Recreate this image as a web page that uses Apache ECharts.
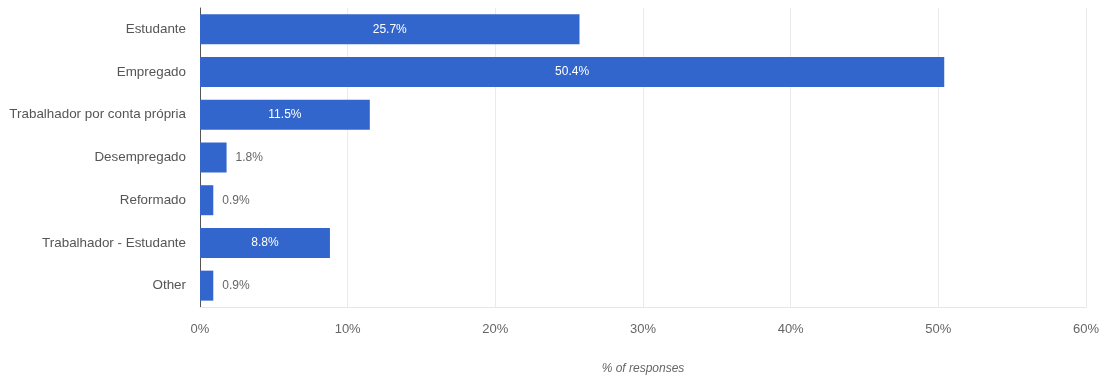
<!DOCTYPE html>
<html>
<head>
<meta charset="utf-8">
<script src="https://cdn.jsdelivr.net/npm/echarts@6/dist/echarts.min.js"></script>
<style>
  html, body { margin: 0; padding: 0; background: #fff; }
  #chart { width: 1105px; height: 378px; }
</style>
</head>
<body>
<div id="chart"></div>
<script>
const categories = ['Estudante', 'Empregado', 'Trabalhador por conta própria', 'Desempregado', 'Reformado', 'Trabalhador - Estudante', 'Other']
const values = [25.7, 50.4, 11.5, 1.8, 0.9, 8.8, 0.9]
const xTicks = [0, 10, 20, 30, 40, 50, 60]

const chart = echarts.init(document.getElementById('chart'))
const font = '"Liberation Sans", Arial, sans-serif'

// small bars get their label outside, big ones inside
const barData = values.map(v => ({
  value: v,
  label: v >= 5
    ? { position: 'inside', color: '#fff' }
    : { position: 'right', color: '#666', distance: 9 }
}))

chart.setOption({
  animation: false,
  grid: { left: 200, right: 19, top: 8, bottom: 71, containLabel: false, outerBoundsMode: 'none' },
  xAxis: {
    type: 'value',
    min: xTicks[0],
    max: xTicks[xTicks.length - 1],
    interval: 10,
    name: '% of responses',
    nameLocation: 'middle',
    nameGap: 56,
    nameTextStyle: { fontFamily: font, fontSize: 12, fontStyle: 'italic', color: '#666' },
    axisLine: { show: true, lineStyle: { color: '#e6e6e6', width: 1 } },
    axisTick: { show: false },
    axisLabel: { formatter: '{value}%', color: '#666', fontFamily: font, fontSize: 13, margin: 16 },
    splitLine: { lineStyle: { color: '#ebebeb', width: 1 } }
  },
  yAxis: {
    type: 'category',
    data: categories,
    inverse: true,
    axisTick: { show: false },
    axisLine: { lineStyle: { color: '#555', width: 1 } },
    axisLabel: { color: '#555', fontFamily: font, fontSize: 13.4, margin: 14 }
  },
  series: [{
    type: 'bar',
    data: barData,
    barWidth: 30,
    itemStyle: { color: '#3366cc' },
    label: {
      show: true,
      formatter: p => p.value.toFixed(1) + '%',
      fontFamily: font,
      fontSize: 12
    }
  }]
})
</script>
</body>
</html>
